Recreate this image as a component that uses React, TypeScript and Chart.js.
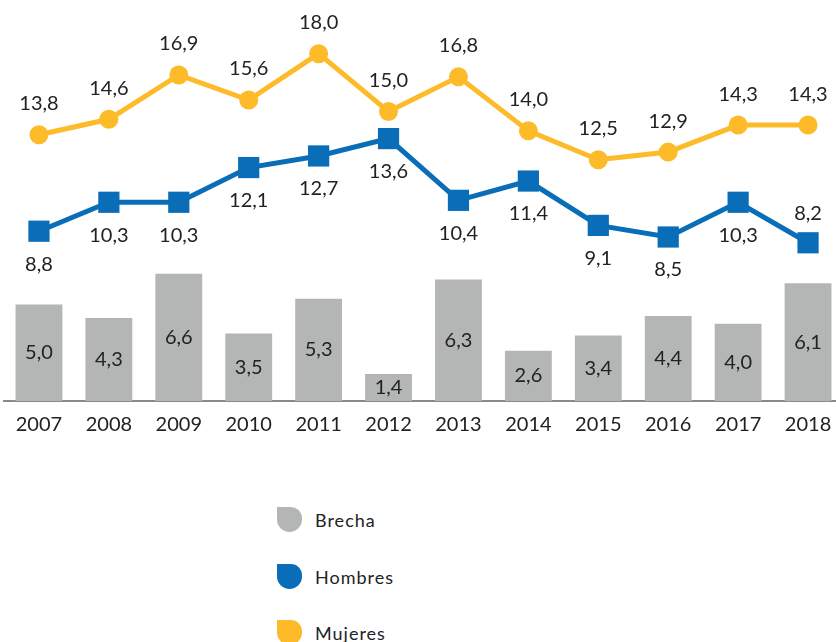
import React, { useEffect, useRef } from "react";
import { Chart, registerables } from "chart.js";

Chart.register(...registerables);

const years = ["2007", "2008", "2009", "2010", "2011", "2012", "2013", "2014", "2015", "2016", "2017", "2018"];
const brecha = [5.0, 4.3, 6.6, 3.5, 5.3, 1.4, 6.3, 2.6, 3.4, 4.4, 4.0, 6.1];
const hombres = [8.8, 10.3, 10.3, 12.1, 12.7, 13.6, 10.4, 11.4, 9.1, 8.5, 10.3, 8.2];
const mujeres = [13.8, 14.6, 16.9, 15.6, 18.0, 15.0, 16.8, 14.0, 12.5, 12.9, 14.3, 14.3];

const GRAY = "#B4B6B5";
const BLUE = "#0A6DB7";
const YELLOW = "#FDBB2A";
const FONT = "Lato, 'Open Sans', sans-serif";

const fmt = (v: number) => v.toFixed(1).replace(".", ",");

const labelPlugin = {
  id: "valueLabels",
  afterDatasetsDraw(chart: any) {
    const ctx = chart.ctx;
    ctx.save();
    ctx.font = `20px ${FONT}`;
    ctx.fillStyle = "#222";
    ctx.textAlign = "center";
    ctx.textBaseline = "middle";
    chart.data.datasets.forEach((ds: any, di: number) => {
      const meta = chart.getDatasetMeta(di);
      meta.data.forEach((el: any, i: number) => {
        const v = ds.data[i];
        let y = el.y;
        if (ds.type === "bar") {
          y = (el.y + el.base) / 2;
        } else if (ds.label === "Mujeres") {
          y = el.y - 31;
        } else {
          y = i === ds.data.length - 1 ? el.y - 29 : el.y + 33;
        }
        ctx.fillText(fmt(v), el.x, y);
      });
    });
    ctx.restore();
  },
};

export default function App() {
  const ref = useRef<HTMLCanvasElement>(null);
  useEffect(() => {
    if (!ref.current) return;
    const chart = new Chart(ref.current, {
      type: "bar",
      data: {
        labels: years,
        datasets: [
          {
            type: "line",
            label: "Mujeres",
            data: mujeres,
            borderColor: YELLOW,
            backgroundColor: YELLOW,
            borderWidth: 5,
            pointStyle: "circle",
            pointRadius: 9.5,
            pointBorderWidth: 0,
            order: 1,
          } as any,
          {
            type: "line",
            label: "Hombres",
            data: hombres,
            borderColor: BLUE,
            backgroundColor: BLUE,
            borderWidth: 5,
            pointStyle: "rect",
            pointRadius: 15,
            pointBorderWidth: 0,
            order: 2,
          } as any,
          {
            type: "bar",
            label: "Brecha",
            data: brecha,
            backgroundColor: GRAY,
            barPercentage: 0.67,
            categoryPercentage: 1,
            order: 3,
          } as any,
        ],
      },
      options: {
        responsive: false,
        animation: false,
        layout: { padding: { top: 18, left: 3, right: 0, bottom: 0 } },
        plugins: { legend: { display: false }, tooltip: { enabled: false } },
        scales: {
          y: { display: false, min: 0, max: 19.85 },
          x: {
            offset: true,
            grid: { display: false },
            border: { display: true, color: "#8a8a8a", width: 2 },
            ticks: { color: "#222", font: { size: 20, family: FONT }, padding: 4 },
          },
        },
      },
      plugins: [labelPlugin],
    });
    return () => chart.destroy();
  }, []);

  const items = [
    { label: "Brecha", color: GRAY, top: 507 },
    { label: "Hombres", color: BLUE, top: 564 },
    { label: "Mujeres", color: YELLOW, top: 620 },
  ];

  return (
    <div style={{ position: "absolute", left: 0, top: 0, width: 836, height: 642, overflow: "hidden", background: "#fff", fontFamily: FONT }}>
      <canvas ref={ref} width={869} height={441} style={{ position: "absolute", left: -11, top: 0 }} />
      {items.map((it) => (
        <div key={it.label} style={{ position: "absolute", left: 277, top: it.top, height: 25, display: "flex", alignItems: "center" }}>
          <div style={{ width: 25, height: 25, background: it.color, borderRadius: "0 45% 50% 50%" }} />
          <span style={{ marginLeft: 13, fontSize: 18, letterSpacing: 1, color: "#222" }}>{it.label}</span>
        </div>
      ))}
    </div>
  );
}
